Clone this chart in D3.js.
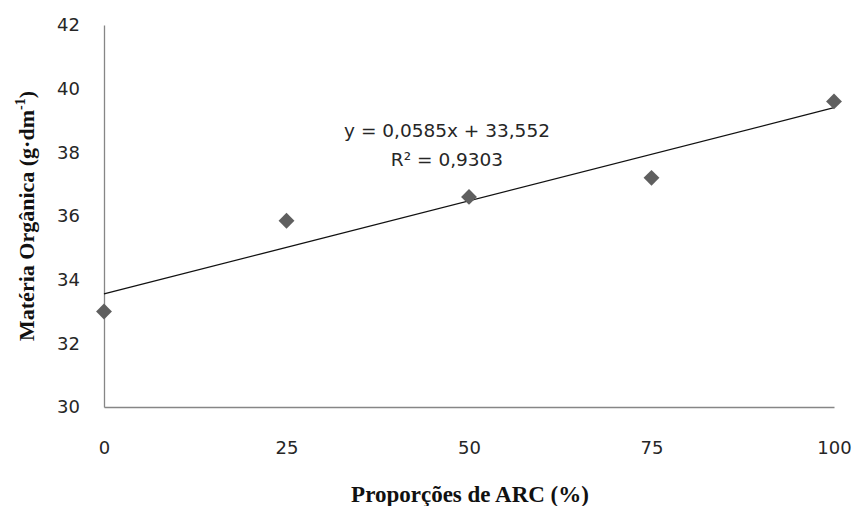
<!DOCTYPE html>
<html>
<head>
<meta charset="utf-8">
<script src="https://cdn.jsdelivr.net/npm/d3@7"></script>
<style>
  body { margin: 0; background: #fff; }
</style>
</head>
<body>
<svg id="chart" width="854" height="506"></svg>
<script>
var proportions = [0, 25, 50, 75, 100];
var organicMatter = [33.0, 35.85, 36.6, 37.2, 39.6];
var xTicks = [0, 25, 50, 75, 100];
var yTicks = [30, 32, 34, 36, 38, 40, 42];
var slope = 0.0585;
var intercept = 33.552;
var eqLines = ["y = 0,0585x + 33,552", "R² = 0,9303"];

var width = 854;
var height = 506;
var margin = { top: 25, right: 20, bottom: 99, left: 104 };

var svg = d3.select("#chart");

var xScale = d3.scaleLinear()
    .domain([0, 100])
    .range([margin.left, 834]);

var yScale = d3.scaleLinear()
    .domain([30, 42])
    .range([height - margin.bottom, margin.top]);

// axes (no tick marks, like the excel original)
var xAxis = d3.axisBottom(xScale).tickValues(xTicks).tickSize(0).tickPadding(34);
var yAxis = d3.axisLeft(yScale).tickValues(yTicks).tickSize(0).tickPadding(24);

var gx = svg.append("g")
    .attr("transform", `translate(0,${yScale(30)})`)
    .call(xAxis);
var gy = svg.append("g")
    .attr("transform", `translate(${margin.left},0)`)
    .call(yAxis);

[gx, gy].forEach(g => {
    g.select(".domain").attr("stroke", "#868686").attr("stroke-width", 1.3);
    g.selectAll("text")
        .style("font-family", "DejaVu Sans, sans-serif")
        .style("font-size", "18px")
        .style("fill", "#262626");
});

// trendline
svg.append("line")
    .attr("x1", xScale(0))
    .attr("y1", yScale(intercept))
    .attr("x2", xScale(100))
    .attr("y2", yScale(intercept + slope * 100))
    .attr("stroke", "#111")
    .attr("stroke-width", 1.3);

// points
svg.selectAll(".pt")
    .data(proportions)
    .enter()
    .append("path")
    .attr("class", "pt")
    .attr("d", d3.symbol().type(d3.symbolDiamond2).size(160))
    .attr("transform", (d, i) => `translate(${xScale(d)},${yScale(organicMatter[i])})`)
    .attr("fill", "#5f5f5f");

// equation
svg.selectAll(".eq")
    .data(eqLines)
    .enter()
    .append("text")
    .attr("class", "eq")
    .attr("x", 447)
    .attr("y", (d, i) => 137 + i * 29)
    .attr("text-anchor", "middle")
    .style("font-family", "DejaVu Sans, sans-serif")
    .style("font-size", "18.5px")
    .style("fill", "#262626")
    .text(d => d);

// axis titles
svg.append("text")
    .attr("x", 470)
    .attr("y", 502)
    .attr("text-anchor", "middle")
    .style("font-family", "Liberation Serif, serif")
    .style("font-weight", "bold")
    .style("font-size", "23px")
    .style("fill", "#111")
    .text("Proporções de ARC  (%)");

var yTitle = svg.append("text")
    .attr("transform", "translate(34,216) rotate(-90)")
    .attr("text-anchor", "middle")
    .style("font-family", "Liberation Serif, serif")
    .style("font-weight", "bold")
    .style("font-size", "22px")
    .style("fill", "#111");
yTitle.append("tspan").text("Matéria Orgânica (g·dm");
yTitle.append("tspan").attr("dy", -9).style("font-size", "14px").text("-1");
yTitle.append("tspan").attr("dy", 9).text(")");
</script>
</body>
</html>
